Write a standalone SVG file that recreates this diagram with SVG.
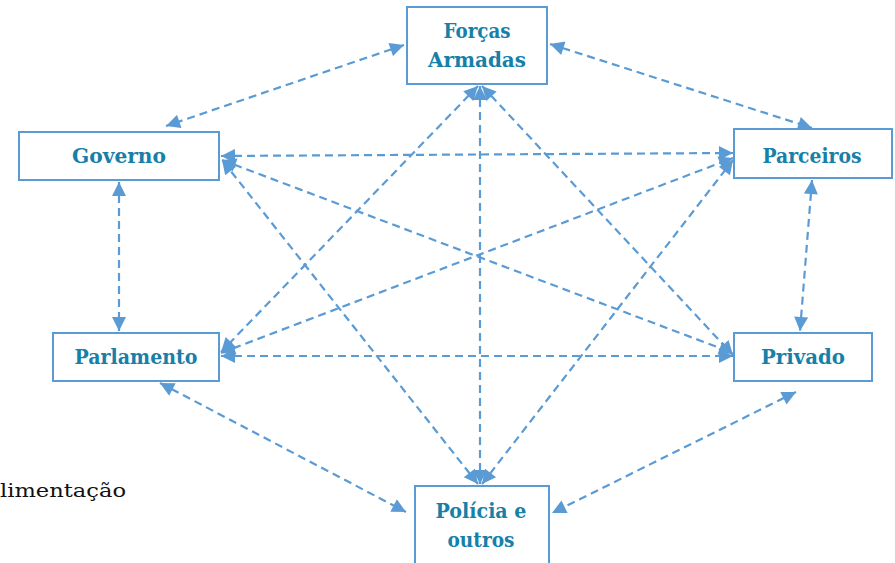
<svg xmlns="http://www.w3.org/2000/svg" width="895" height="563" viewBox="0 0 895 563">
<style>
.box{fill:#fff;stroke:#5b9bd5;stroke-width:2}
.lbl{font-family:"DejaVu Serif",serif;font-weight:bold;font-size:20px;fill:#1680a9;text-anchor:middle}
.con line{stroke:#5b9bd5;stroke-width:2.2;stroke-dasharray:8 5;marker-start:url(#ah);marker-end:url(#ah)}
.plain{font-family:"DejaVu Serif",serif;font-size:18px;fill:#111}
</style>
<defs>
<marker id="ah" viewBox="0 0 10 10" refX="10" refY="5" markerWidth="16" markerHeight="14" markerUnits="userSpaceOnUse" orient="auto-start-reverse">
<path d="M0,0 L10,5 L0,10 z" fill="#5b9bd5"/>
</marker>
</defs>
<rect width="895" height="563" fill="#fff"/>
<text class="plain" x="0" y="497" textLength="126" lengthAdjust="spacingAndGlyphs">limentação</text>
<g id="connectors" class="con">
<line x1="404" y1="45" x2="166" y2="126"/>
<line x1="550" y1="44" x2="812" y2="128"/>
<line x1="119" y1="182" x2="119" y2="331"/>
<line x1="812" y1="180" x2="800" y2="331"/>
<line x1="160" y1="383" x2="406" y2="512"/>
<line x1="796" y1="392" x2="552" y2="513"/>
<line x1="221" y1="156" x2="733" y2="153"/>
<line x1="221" y1="356" x2="733" y2="356"/>
<line x1="222" y1="160" x2="733" y2="353"/>
<line x1="221" y1="353" x2="733" y2="158"/>
<line x1="480" y1="86" x2="480" y2="484"/>
<line x1="478" y1="86" x2="221" y2="352"/>
<line x1="482" y1="86" x2="733" y2="355"/>
<line x1="478" y1="484" x2="222" y2="160"/>
<line x1="482" y1="484" x2="733" y2="160"/>
</g>
<g id="forcas"><rect class="box" x="407" y="7" width="140" height="77"/><text class="lbl" x="477" y="38" textLength="67" lengthAdjust="spacingAndGlyphs">Forças</text><text class="lbl" x="477" y="67" textLength="98" lengthAdjust="spacingAndGlyphs">Armadas</text></g>
<g id="governo"><rect class="box" x="19" y="132" width="200" height="48"/><text class="lbl" x="119" y="163" textLength="94" lengthAdjust="spacingAndGlyphs">Governo</text></g>
<g id="parceiros"><rect class="box" x="734" y="129" width="158" height="49"/><text class="lbl" x="812" y="163" textLength="99" lengthAdjust="spacingAndGlyphs">Parceiros</text></g>
<g id="parlamento"><rect class="box" x="53" y="333" width="166" height="48"/><text class="lbl" x="136" y="364" textLength="123" lengthAdjust="spacingAndGlyphs">Parlamento</text></g>
<g id="privado"><rect class="box" x="734" y="333" width="138" height="48"/><text class="lbl" x="803" y="364" textLength="84" lengthAdjust="spacingAndGlyphs">Privado</text></g>
<g id="policia"><rect class="box" x="415" y="486" width="134" height="80"/><text class="lbl" x="481" y="518" textLength="91" lengthAdjust="spacingAndGlyphs">Polícia e</text><text class="lbl" x="481" y="547" textLength="67" lengthAdjust="spacingAndGlyphs">outros</text></g>
</svg>
